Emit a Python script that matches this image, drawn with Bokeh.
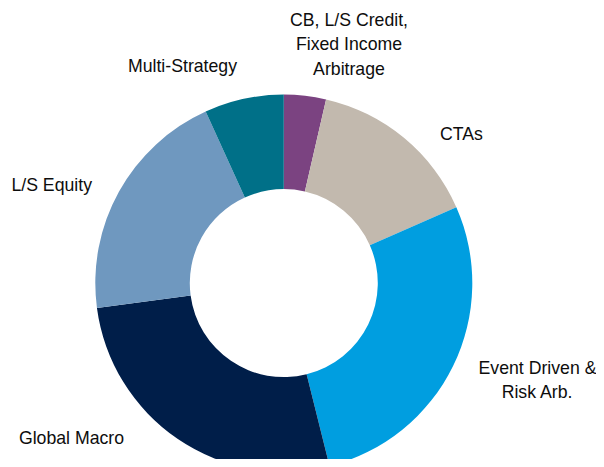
import math
from bokeh.plotting import figure
from bokeh.models import Range1d, ColumnDataSource
from bokeh.embed import file_html
from bokeh.resources import INLINE
from bokeh.core.properties import value

# ---- data ----
categories = ["CB, L/S Credit,\nFixed Income\nArbitrage", "CTAs", "Event Driven &\nRisk Arb.",
              "Global Macro", "L/S Equity", "Multi-Strategy"]
shares = [3.6, 14.8, 27.7, 26.8, 20.3, 6.8]
colors = ["#7B4381", "#C2B9AE", "#009EE0", "#001E49", "#6F98BF", "#007088"]

# ---- layout (picture pixels) ----
W, H = 596, 459
cx, cy = 283.3, 282.6
r_in, r_out = 94.0, 188.5
label_x = [348.5, 461.0, 537.0, 71.0, 51.2, 182.0]
label_y = [44.0, 133.0, 379.2, 437.5, 184.3, 65.0]

total = sum(shares)
starts, ends = [], []
cum = 0.0
for s in shares:
    starts.append(math.pi / 2 - 2 * math.pi * cum / total)
    cum += s
    ends.append(math.pi / 2 - 2 * math.pi * cum / total)

src = ColumnDataSource(dict(x=[cx] * len(shares), y=[H - cy] * len(shares),
                            start=starts, end=ends, color=colors, cat=categories))

p = figure(width=W, height=H, output_backend="svg", toolbar_location=None,
           x_range=Range1d(0, W), y_range=Range1d(0, H),
           x_axis_type=None, y_axis_type=None, min_border=0)
p.grid.visible = False
p.outline_line_color = None
p.background_fill_color = "white"
p.border_fill_color = "white"

p.annular_wedge(x="x", y="y", inner_radius=r_in, outer_radius=r_out,
                start_angle="start", end_angle="end", direction="clock",
                fill_color="color", line_color=None, source=src)

lsrc = ColumnDataSource(dict(x=label_x, y=[H - v for v in label_y], t=categories))
p.text(x="x", y="y", text="t", source=lsrc, text_align="center", text_baseline="middle",
       text_font=value("Liberation Sans"), text_font_size="17.7px", text_color="#0d0d0d",
       text_line_height=1.21)

open("out.html", "w").write(file_html(p, INLINE))
